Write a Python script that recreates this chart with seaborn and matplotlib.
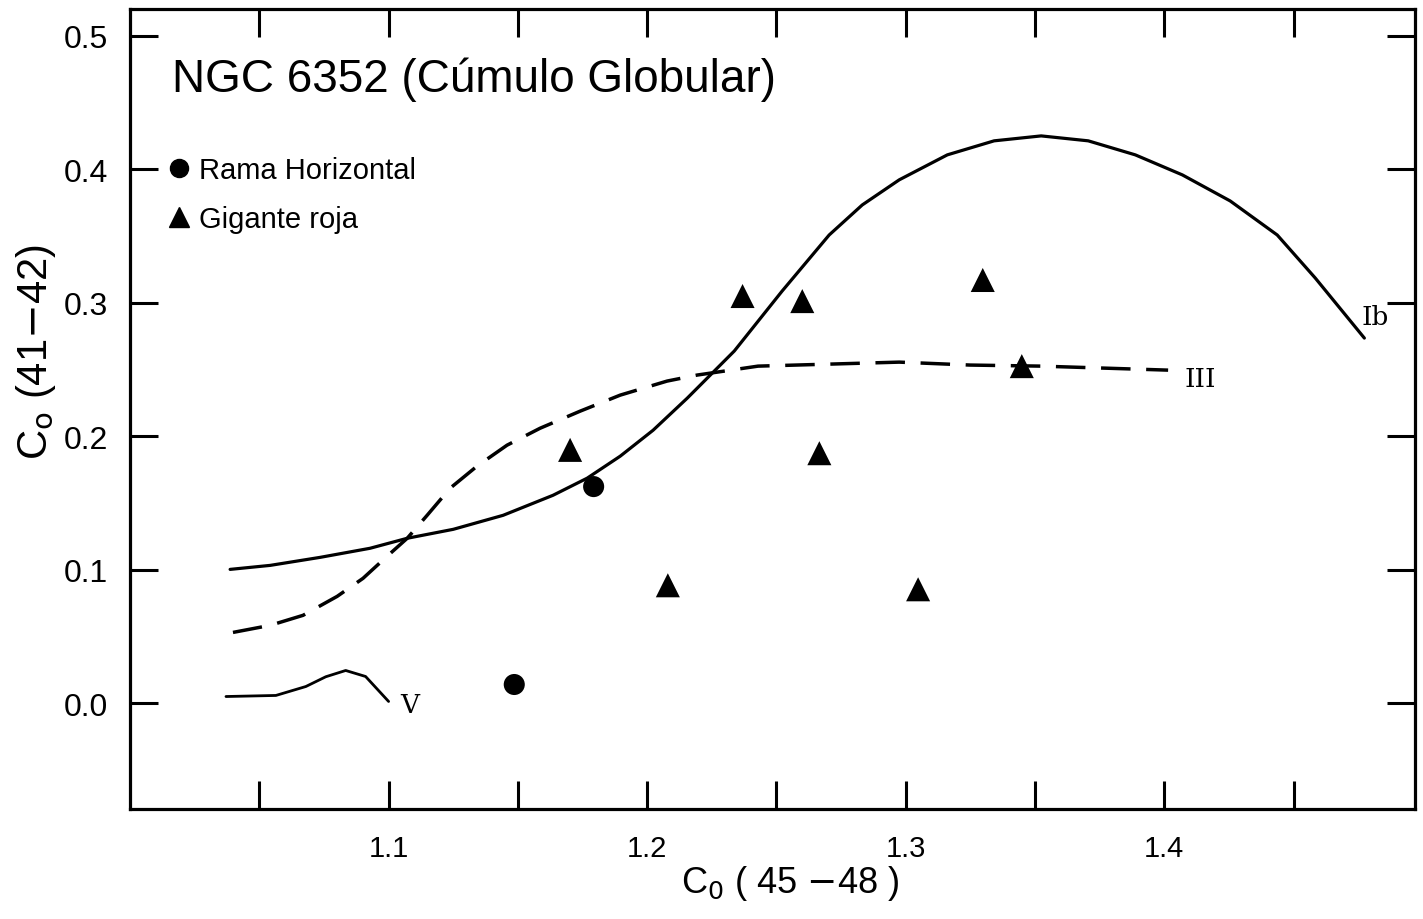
import seaborn as sns
import matplotlib.pyplot as plt
import pandas as pd
from matplotlib.lines import Line2D

# Star data
rama_x = [1.1793, 1.1486]
rama_y = [0.1624, 0.0142]
gigante_x = [1.1702, 1.2080, 1.2369, 1.2600, 1.2666, 1.3048, 1.3298, 1.3449]
gigante_y = [0.1899, 0.0885, 0.3051, 0.3013, 0.1874, 0.0855, 0.3171, 0.2526]

# Luminosity class sequences (Ib, III, V)
ib_x = [1.0387, 1.0542, 1.0735, 1.0928, 1.1072, 1.1250, 1.1443, 1.1636, 1.1768,
        1.1896, 1.2023, 1.2155, 1.2337, 1.2522, 1.2704, 1.2832, 1.2975, 1.3161,
        1.3342, 1.3524, 1.3706, 1.3888, 1.4070, 1.4255, 1.4437, 1.4584, 1.4774]
ib_y = [0.1004, 0.1034, 0.1094, 0.1162, 0.1237, 0.1304, 0.1409, 0.1559, 0.1687,
        0.1852, 0.2046, 0.2286, 0.2639, 0.3088, 0.3508, 0.3733, 0.3921, 0.4108,
        0.4213, 0.4250, 0.4213, 0.4108, 0.3958, 0.3763, 0.3508, 0.3186, 0.2736]
iii_x = [1.0398, 1.0542, 1.0669, 1.0801, 1.0901, 1.0994, 1.1072, 1.1149, 1.1238,
         1.1342, 1.1458, 1.1586, 1.1741, 1.1896, 1.2077, 1.2193, 1.2429, 1.2704,
         1.2975, 1.3249, 1.3524, 1.4015]
iii_y = [0.0532, 0.0585, 0.0660, 0.0802, 0.0937, 0.1102, 0.1237, 0.1409, 0.1612,
         0.1777, 0.1934, 0.2061, 0.2189, 0.2309, 0.2414, 0.2459, 0.2526, 0.2541,
         0.2556, 0.2534, 0.2526, 0.2496]
v_x = [1.0371, 1.0564, 1.0680, 1.0757, 1.0834, 1.0911, 1.1000]
v_y = [0.0052, 0.0060, 0.0127, 0.0200, 0.0247, 0.0202, 0.0015]

x_ticks = [1.05, 1.10, 1.15, 1.20, 1.25, 1.30, 1.35, 1.40, 1.45]
x_labels = ["", "1.1", "", "1.2", "", "1.3", "", "1.4", ""]
y_ticks = [0.0, 0.1, 0.2, 0.3, 0.4, 0.5]
y_labels = ["0.0", "0.1", "0.2", "0.3", "0.4", "0.5"]

sns.set_theme(style="ticks")
plt.rcParams['font.family'] = ['Liberation Sans', 'DejaVu Sans']
plt.rcParams['text.color'] = 'black'
plt.rcParams['axes.labelcolor'] = 'black'

fig = plt.figure(figsize=(14.23, 9.2), dpi=100)
ax = fig.add_axes([0.0914, 0.1196, 0.9030, 0.8695])

stars = pd.DataFrame({
    'x': rama_x + gigante_x,
    'y': rama_y + gigante_y,
    'tipo': ['Rama Horizontal'] * len(rama_x) + ['Gigante roja'] * len(gigante_x),
})
sns.scatterplot(data=stars[stars.tipo == 'Rama Horizontal'], x='x', y='y',
                marker='o', s=230, color='black', edgecolor='none', ax=ax, legend=False)
sns.scatterplot(data=stars[stars.tipo == 'Gigante roja'], x='x', y='y',
                marker='^', s=300, color='black', edgecolor='none', ax=ax, legend=False)

sns.lineplot(x=ib_x, y=ib_y, sort=False, estimator=None, color='black', lw=2.3, ax=ax)
sns.lineplot(x=iii_x, y=iii_y, sort=False, estimator=None, color='black', lw=2.5,
             linestyle=(0, (8.5, 4.5)), ax=ax)
sns.lineplot(x=v_x, y=v_y, sort=False, estimator=None, color='black', lw=2.0, ax=ax)

# Class labels
ax.text(1.4816, 0.290, "Ib", family='DejaVu Serif', fontsize=19, ha='center', va='center')
ax.text(1.4139, 0.2436, "III", family='DejaVu Serif', fontsize=19, ha='center', va='center')
ax.text(1.1083, -0.001, "V", family='DejaVu Serif', fontsize=19, ha='center', va='center')

ax.text(0.033, 0.913, "NGC 6352 (Cúmulo Globular)", transform=ax.transAxes,
        fontsize=33, ha='left', va='center')

handles = [
    Line2D([], [], marker='o', color='black', ls='none', markersize=13),
    Line2D([], [], marker='^', color='black', ls='none', markersize=15),
]
ax.legend(handles, ['Rama Horizontal', 'Gigante roja'], loc='upper left',
          bbox_to_anchor=(0.029, 0.816), frameon=False, fontsize=21,
          handlelength=0.8, handletextpad=0.3, labelspacing=0.72, borderpad=0,
          borderaxespad=0)

ax.set_xlim(1.0, 1.497)
ax.set_ylim(-0.079, 0.52)
ax.set_xticks(x_ticks)
ax.set_xticklabels(x_labels)
ax.set_yticks(y_ticks)
ax.set_yticklabels(y_labels)
ax.tick_params(direction='in', top=True, right=True, length=20, width=2.2,
               colors='black')
ax.tick_params(axis='x', pad=18, labelsize=21)
ax.tick_params(axis='y', pad=16, labelsize=23)
for sp in ax.spines.values():
    sp.set_linewidth(2.3)
    sp.set_color('black')

ax.set_xlabel("C$_0$ ( 45 $-$48 )", fontsize=26)
ax.set_ylabel("C$_\\mathrm{o}$ (41$-$42)", fontsize=30)
ax.xaxis.set_label_coords(0.514, -0.068)
ax.yaxis.set_label_coords(-0.056, 0.5725)

fig.savefig("out.png", dpi=100)
plt.close()
